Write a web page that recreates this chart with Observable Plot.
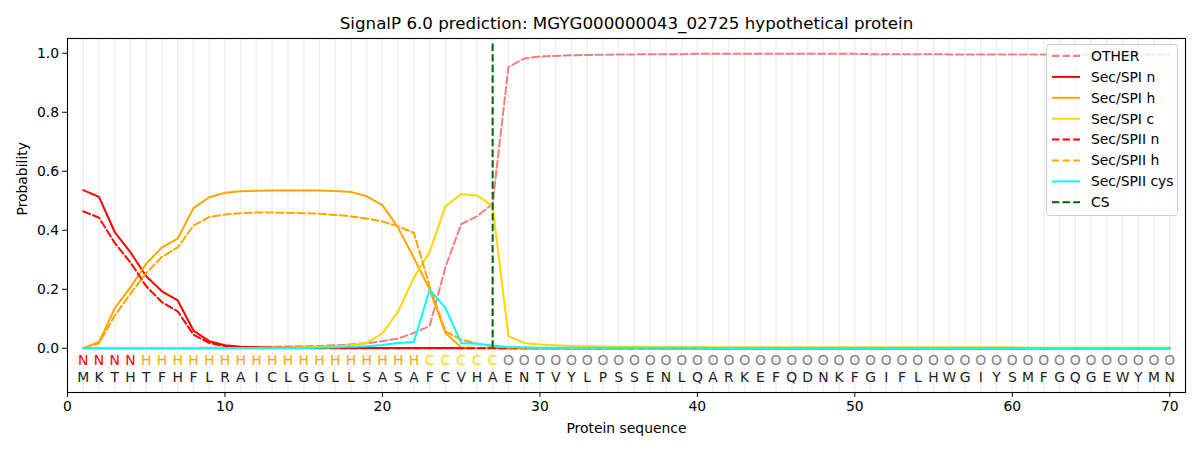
<!DOCTYPE html>
<html><head><meta charset="utf-8">
<script src="https://cdn.jsdelivr.net/npm/d3@7"></script>
<script src="https://cdn.jsdelivr.net/npm/@observablehq/plot@0.6"></script>
<style>
body{margin:0;background:#fff;}
#chart svg{display:block;}
</style>
</head><body><div id="chart"></div><script>
const title = "SignalP 6.0 prediction: MGYG000000043_02725 hypothetical protein";
const sequence = "MKTHTFHFLRAICLGGLLSASAFCVHAENTVYLPSSENLQARKEFQDNKFGIFLHWGIYSMFGQGEWYMN".split("");
const labels = ("NNNN" + "H".repeat(18) + "CCCCC" + "O".repeat(43)).split("");
const positions = sequence.map((_, i) => i + 1);
const xTicks = [0, 10, 20, 30, 40, 50, 60, 70];
const yTicks = [0, 0.2, 0.4, 0.6, 0.8, 1.0];
const csPos = 27;

const other = [0.001,0.001,0.001,0.001,0.001,0.001,0.001,0.001,0.002,0.002,
  0.003,0.004,0.005,0.006,0.007,0.008,0.010,0.013,0.017,0.024,
  0.033,0.052,0.075,0.275,0.421,0.447,0.490,0.953,0.982,0.989,
  0.991,0.993,0.994,0.995,0.996,0.996,0.997,0.997,0.997,0.998,
  0.998,0.998,0.998,0.998,0.998,0.998,0.998,0.998,0.998,0.998,
  0.997,0.997,0.997,0.997,0.997,0.996,0.996,0.996,0.996,0.996,
  0.996,0.996,0.996,0.996,0.996,0.996,0.996,0.996,0.996,0.996];
const spiN = [0.536,0.513,0.394,0.325,0.244,0.193,0.162,0.060,0.024,0.010,
  0.005,0.003,0.002,0.002,0.002,0.001,0.001,0.001,0.001,0.001,
  0.001,0.001,0.001,0.001,0.001,0.001,0.001,0,0,0,
  0,0,0,0,0,0,0,0,0,0, 0,0,0,0,0,0,0,0,0,0,
  0,0,0,0,0,0,0,0,0,0, 0,0,0,0,0,0,0,0,0,0];
const spiH = [0,0.021,0.135,0.207,0.287,0.342,0.372,0.475,0.512,0.527,
  0.532,0.534,0.535,0.535,0.535,0.535,0.533,0.530,0.515,0.485,
  0.408,0.306,0.199,0.052,0.003,0.001,0.001,0,0,0,
  0,0,0,0,0,0,0,0,0,0, 0,0,0,0,0,0,0,0,0,0,
  0,0,0,0,0,0,0,0,0,0, 0,0,0,0,0,0,0,0,0,0];
const spiC = [0,0,0,0,0,0,0,0,0.001,0.001,
  0.001,0.001,0.002,0.002,0.003,0.004,0.006,0.010,0.019,0.050,
  0.125,0.240,0.327,0.481,0.523,0.518,0.481,0.041,0.018,0.013,
  0.010,0.008,0.007,0.006,0.005,0.005,0.004,0.004,0.004,0.004,
  0.003,0.003,0.003,0.003,0.003,0.003,0.003,0.003,0.003,0.003,
  0.003,0.003,0.003,0.003,0.003,0.003,0.003,0.003,0.003,0.003,
  0.002,0.002,0.002,0.002,0.002,0.002,0.002,0.002,0.002,0.002];
const spiiN = [0.464,0.443,0.357,0.291,0.210,0.156,0.125,0.046,0.018,0.007,
  0.003,0.002,0.001,0.001,0.001,0,0,0,0,0,
  0,0,0,0,0,0,0,0,0,0, 0,0,0,0,0,0,0,0,0,0,
  0,0,0,0,0,0,0,0,0,0, 0,0,0,0,0,0,0,0,0,0,
  0,0,0,0,0,0,0,0,0,0];
const spiiH = [0,0.017,0.110,0.185,0.255,0.310,0.342,0.416,0.445,0.453,
  0.458,0.460,0.460,0.459,0.458,0.456,0.452,0.447,0.440,0.430,
  0.413,0.391,0.210,0.058,0.029,0.016,0.006,0.002,0.001,0,
  0,0,0,0,0,0,0,0,0,0, 0,0,0,0,0,0,0,0,0,0,
  0,0,0,0,0,0,0,0,0,0, 0,0,0,0,0,0,0,0,0,0];
const spiiCys = [0,0,0,0,0,0,0,0,0,0,
  0.001,0.001,0.001,0.001,0.001,0.002,0.003,0.005,0.007,0.011,
  0.018,0.021,0.199,0.137,0.018,0.015,0.009,0.004,0.003,0.002,
  0.002,0.002,0.002,0.002,0.002,0.002,0.002,0.002,0.002,0.002,
  0.001,0.001,0.001,0.001,0.001,0.001,0.001,0.001,0.001,0.001,
  0.001,0.001,0.001,0.001,0.001,0.001,0.001,0.001,0.001,0.001,
  0.001,0.001,0.001,0.001,0.001,0.001,0.001,0.001,0.001,0.001];

const dash = "7.4,3.2";
const series = [
  {name: "OTHER", values: other, color: "#f08080", dash: dash},
  {name: "Sec/SPI n", values: spiN, color: "red", dash: null},
  {name: "Sec/SPI h", values: spiH, color: "orange", dash: null},
  {name: "Sec/SPI c", values: spiC, color: "gold", dash: null},
  {name: "Sec/SPII n", values: spiiN, color: "red", dash: dash},
  {name: "Sec/SPII h", values: spiiH, color: "orange", dash: dash},
  {name: "Sec/SPII cys", values: spiiCys, color: "cyan", dash: null}
];
const labelColor = {N: "red", H: "orange", C: "gold", O: "grey"};

const font = "DejaVu Sans, sans-serif";
const fs = 13.9;

const chart = Plot.plot({
  width: 1200, height: 450,
  marginTop: 38, marginBottom: 58, marginLeft: 67, marginRight: 15,
  style: {fontFamily: font, fontSize: fs + "px", color: "black", background: "white"},
  x: {domain: [0, 71]},
  y: {domain: [-0.15, 1.05]},
  marks: [
    Plot.ruleX(positions, {x: d => d, stroke: "#f0f0f0", strokeWidth: 1.5}),
    ...series.map(s => Plot.line(s.values, {x: (d, i) => positions[i], y: d => d, stroke: s.color, strokeWidth: 2, strokeDasharray: s.dash})),
    Plot.ruleX([csPos], {x: d => d, y1: 0, y2: 1.035, stroke: "darkgreen", strokeWidth: 2, strokeDasharray: dash}),
    Plot.text(labels, {x: (d, i) => positions[i], text: d => d, fill: d => labelColor[d], frameAnchor: "bottom", lineAnchor: "middle", dy: -32, fontSize: fs}),
    Plot.text(sequence, {x: (d, i) => positions[i], text: d => d, fill: "#222", frameAnchor: "bottom", lineAnchor: "middle", dy: -15, fontSize: fs}),
    Plot.frame({stroke: "black", strokeWidth: 1.1}),
    Plot.axisX({ticks: xTicks, tickSize: 4.9, tickPadding: 3.5, fontSize: fs, label: null}),
    Plot.axisY({ticks: yTicks, tickFormat: d3.format(".1f"), tickSize: 4.9, tickPadding: 3.5, fontSize: fs, label: null}),
    Plot.text([title], {frameAnchor: "top", lineAnchor: "middle", dy: -15, fontSize: 16.7, fill: "black"}),
    Plot.text(["Protein sequence"], {frameAnchor: "bottom", lineAnchor: "middle", dy: 36, fontSize: fs, fill: "black"}),
    Plot.text(["Probability"], {frameAnchor: "left", lineAnchor: "middle", dx: -45, rotate: -90, fontSize: fs, fill: "black"})
  ]
});
document.getElementById("chart").appendChild(chart);

// legend
const svg = d3.select(chart);
const lg = svg.append("g").attr("font-family", font).attr("font-size", fs).attr("text-anchor", "start");
lg.append("rect").attr("x", 1046.5).attr("y", 44.5).attr("width", 131).attr("height", 171)
  .attr("rx", 3).attr("fill", "white").attr("fill-opacity", 0.8).attr("stroke", "#cccccc");
const legendItems = [...series, {name: "CS", color: "darkgreen", dash: dash}];
legendItems.forEach((s, i) => {
  const y = 56 + i * 20.9;
  lg.append("line").attr("x1", 1052).attr("x2", 1080).attr("y1", y).attr("y2", y)
    .attr("stroke", s.color).attr("stroke-width", 2).attr("stroke-dasharray", s.dash);
  lg.append("text").attr("x", 1091).attr("y", y).attr("dy", "0.35em").attr("text-anchor", "start").attr("fill", "black").text(s.name);
});
</script></body></html>
